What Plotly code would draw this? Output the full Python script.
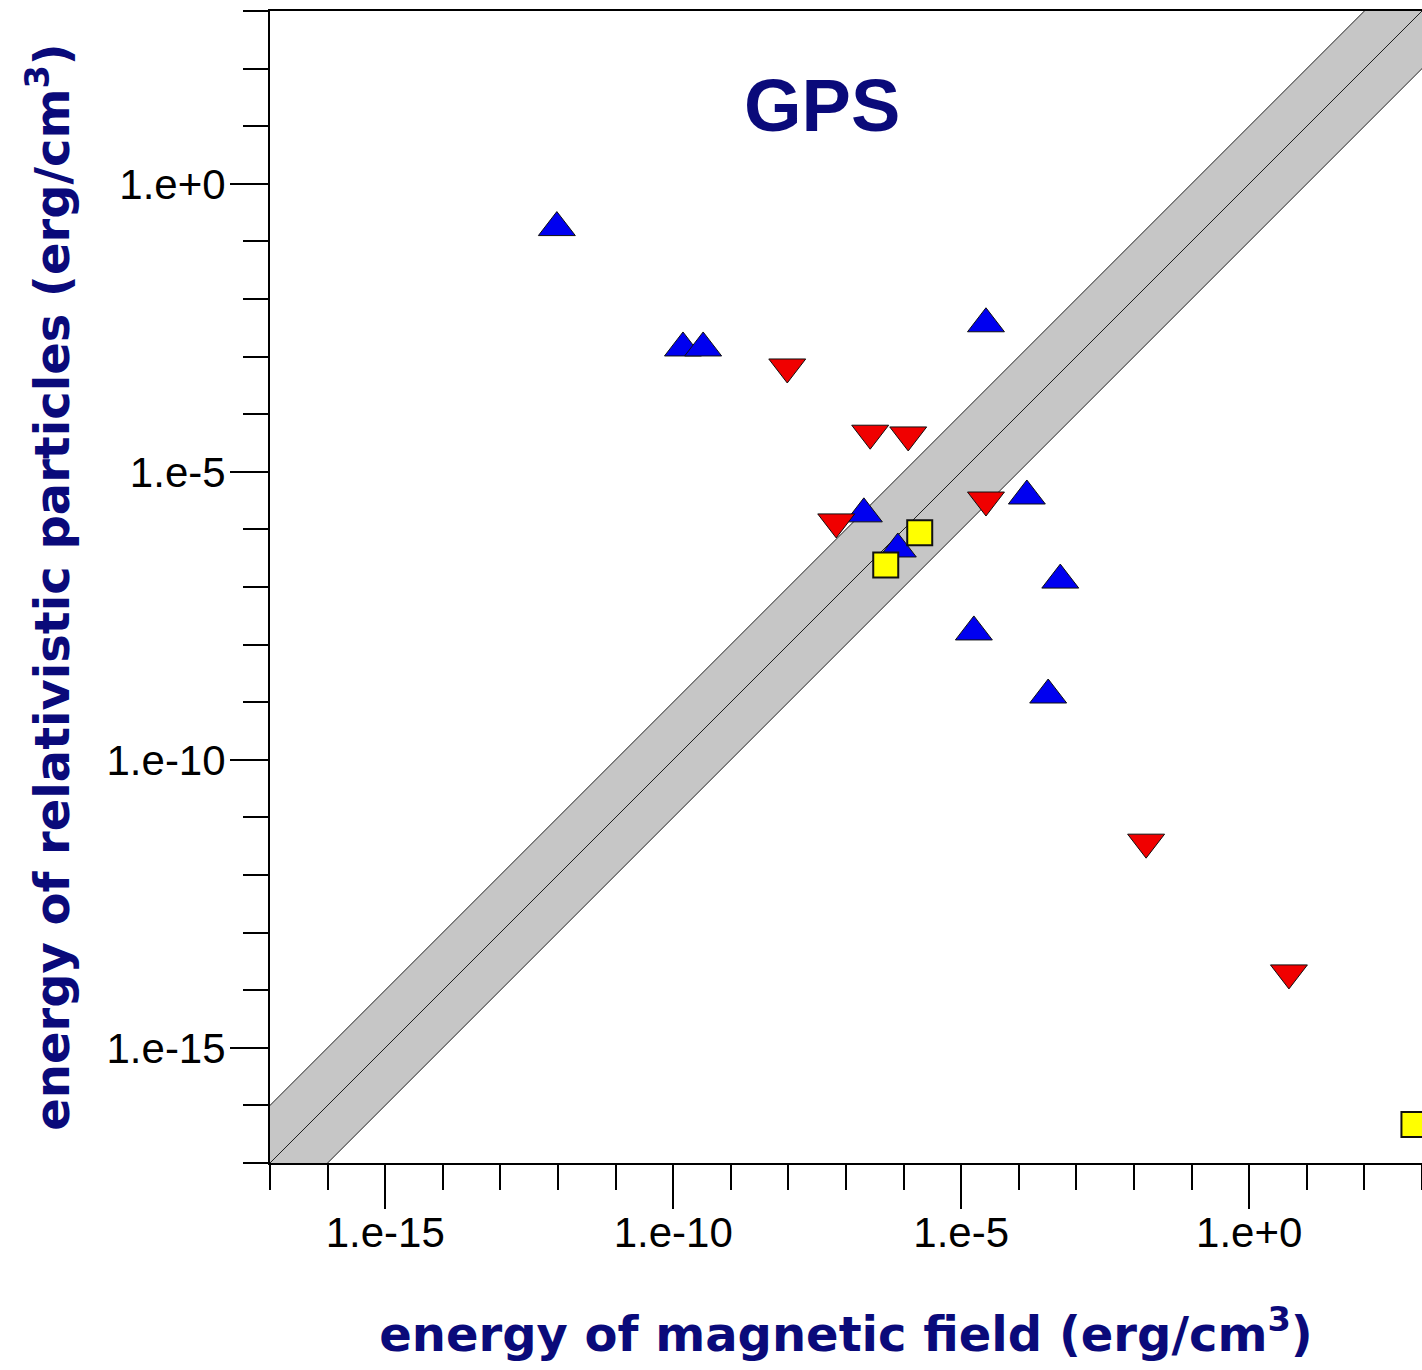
import plotly.graph_objects as go

# Energy densities (erg/cm^3): magnetic field (x) vs relativistic particles (y)
blue_up_B = [10**-12.02, 10**-9.83, 10**-9.48, 10**-4.57, 10**-6.69,
             10**-3.86, 10**-6.10, 10**-3.28, 10**-4.78, 10**-3.49]
blue_up_E = [10**-0.76, 10**-2.85, 10**-2.85, 10**-2.43, 10**-5.73,
             10**-5.42, 10**-6.34, 10**-6.88, 10**-7.78, 10**-8.875]

red_down_B = [10**-8.02, 10**-6.58, 10**-5.92, 10**-7.17, 10**-4.57,
              10**-1.79, 10**0.69]
red_down_E = [10**-3.18, 10**-4.33, 10**-4.36, 10**-5.87, 10**-5.49,
              10**-11.43, 10**-13.70]

yellow_sq_B = [10**-6.31, 10**-5.72, 10**2.86]
yellow_sq_E = [10**-6.62, 10**-6.06, 10**-16.33]

# Axis setup
axis_range_log = [-17, 3]
major_tickvals = [1e-15, 1e-10, 1e-5, 1e0]
major_ticktext = ["1.e-15", "1.e-10", "1.e-5", "1.e+0"]
minor_tickvals = [10.0**k for k in range(-17, 4)]

# Equipartition band: E_particles = E_field, within a factor of 10
band_factor = 10.0
band_x = [10.0**(axis_range_log[0] - 2), 10.0**(axis_range_log[1] + 2)]

NAVY = "#0a0a7a"
TICK_FONT = dict(family="Liberation Sans, Arial, sans-serif", size=42, color="black")
TITLE_FONT = dict(family="DejaVu Sans, Verdana, sans-serif", size=48, color=NAVY, weight="bold")

fig = go.Figure()

# band: lower edge, then upper edge filled down to it
fig.add_trace(go.Scatter(
    x=band_x, y=[v / band_factor for v in band_x], mode="lines",
    line=dict(color="#1e1e1e", width=1), hoverinfo="skip"))
fig.add_trace(go.Scatter(
    x=band_x, y=[v * band_factor for v in band_x], mode="lines",
    line=dict(color="#1e1e1e", width=1), fill="tonexty",
    fillcolor="#c6c6c6", hoverinfo="skip"))
# equipartition line
fig.add_trace(go.Scatter(
    x=band_x, y=band_x, mode="lines",
    line=dict(color="#1e1e1e", width=1), hoverinfo="skip"))

fig.add_trace(go.Scatter(
    x=blue_up_B, y=blue_up_E, mode="markers", cliponaxis=False,
    marker=dict(symbol="triangle-up", size=32, color="#0000f0",
                line=dict(color="#101010", width=1))))
fig.add_trace(go.Scatter(
    x=red_down_B, y=red_down_E, mode="markers", cliponaxis=False,
    marker=dict(symbol="triangle-down", size=32, color="#f00000",
                line=dict(color="#101010", width=1))))
fig.add_trace(go.Scatter(
    x=yellow_sq_B, y=yellow_sq_E, mode="markers", cliponaxis=False,
    marker=dict(symbol="square", size=25, color="#ffff00",
                line=dict(color="#101010", width=2))))

fig.add_annotation(
    text="GPS", x=0.479, y=0.918, xref="paper", yref="paper",
    showarrow=False, xanchor="center", yanchor="middle",
    font=dict(family="Liberation Sans, Arial, sans-serif", size=74,
              color=NAVY, weight="bold"))

common_axis = dict(
    type="log", range=axis_range_log,
    showgrid=False, zeroline=False,
    showline=True, linecolor="black", linewidth=2, mirror=True,
    ticks="outside", tickcolor="black", tickwidth=2,
    tickvals=major_tickvals, ticktext=major_ticktext,
    tickfont=TICK_FONT,
    minor=dict(tickvals=minor_tickvals, ticks="outside", ticklen=25,
               tickcolor="black", tickwidth=2, showgrid=False),
    automargin=False,
)

fig.update_xaxes(
    **common_axis, ticklen=44, ticklabelstandoff=-12,
    title=dict(text="energy of magnetic field (erg/cm<sup>3</sup>)",
               font=TITLE_FONT, standoff=62))
fig.update_yaxes(
    **common_axis, ticklen=38, ticklabelstandoff=-4,
    title=dict(text="energy of relativistic particles (erg/cm<sup>3</sup>)",
               font=TITLE_FONT, standoff=22))

fig.update_layout(
    width=1422, height=1370,
    margin=dict(l=270, r=0, t=11, b=207),
    paper_bgcolor="white", plot_bgcolor="white",
    showlegend=False,
)

fig.write_html("out.html")
